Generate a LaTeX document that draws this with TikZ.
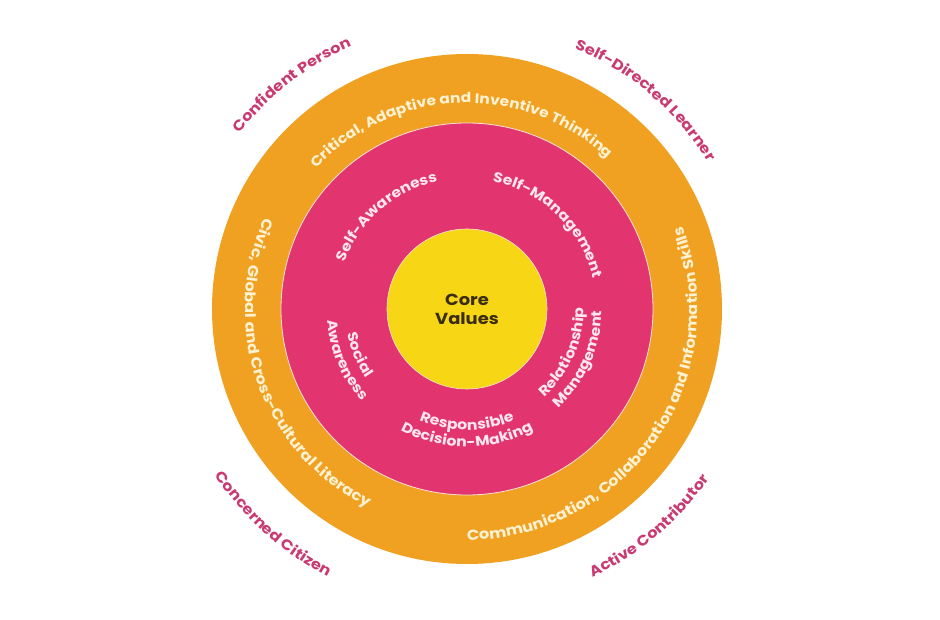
\documentclass[tikz,border=0pt]{standalone}
\usepackage{fontspec}
\setmainfont{Poppins}
\newfontfamily\wheelfont{Poppins}[FakeStretch=1.12]
\usepackage{xcolor}
\usetikzlibrary{decorations.text}

\definecolor{ringorange}{HTML}{F0A122}
\definecolor{ringpink}{HTML}{E2346F}
\definecolor{coreyellow}{HTML}{F6D615}
\definecolor{edgelight}{HTML}{FBE3DA}
\definecolor{labelpink}{HTML}{C93A72}
\definecolor{creamtext}{HTML}{FFF2D2}
\definecolor{pinktext}{HTML}{FDE6EE}
\definecolor{coretext}{HTML}{3B2C12}

\newcommand{\ringfont}{\wheelfont\fontsize{14.5}{16}\selectfont\bfseries}
\newcommand{\topfont}{\wheelfont\fontsize{13.8}{16}\selectfont\bfseries}
\newcommand{\pinkfont}{\wheelfont\fontsize{14}{15}\selectfont\bfseries}

\begin{document}
\begin{tikzpicture}[x=1pt, y=1pt,
  rings/.style={circle, inner sep=0pt},
  over/.style={decorate, decoration={text along path, text align=center,
      text color=#1}},
  textcw/.style n args={3}{insert path={(#1+70:#2) arc[start angle=#1+70, end angle=#1-70, radius=#2]}},
  textccw/.style n args={3}{insert path={(#1-70:#2) arc[start angle=#1-70, end angle=#1+70, radius=#2]}}]

 \useasboundingbox (-467,-311) rectangle (473,309);

 \node (ring_outer) [rings, fill=ringorange, minimum size=510pt] at (0,0) {};

 \node (ring_pink) [rings, fill=ringpink, draw=edgelight, line width=0.8pt,
     minimum size=372pt] at (ring_outer.center) {};

 \node (core_values) [rings, fill=coreyellow, draw=edgelight, line width=0.6pt,
     minimum size=160pt, align=center, text=coretext,
     font=\wheelfont\fontsize{16}{19}\selectfont\bfseries] at (ring_outer.center)
     {Core\\Values};

 % outer ring
 \path [over=creamtext, decoration={text={|\topfont|Critical, Adaptive and Inventive Thinking}}]
     [textcw={92}{206}{}];
 \path [over=creamtext, decoration={text={|\ringfont|Civic, Global and Cross-Cultural Literacy}}]
     [textccw={199.5}{222}{}];
 \path [over=creamtext, decoration={text={|\ringfont|Communication, Collaboration and Information Skills}}]
     [textccw={325.5}{231}{}];

 % pink ring
 \path [over=pinktext, decoration={text={|\pinkfont|Self-Awareness}}]
     [textcw={131}{131}{}];
 \path [over=pinktext, decoration={text={|\pinkfont|Self-Management}}]
     [textcw={46}{130}{}];
 \path [over=pinktext, decoration={text={|\pinkfont|Social}}]
     [textccw={203}{122}{}];
 \path [over=pinktext, decoration={text={|\pinkfont|Awareness}}]
     [textccw={203}{140}{}];
 \path [over=pinktext, decoration={text={|\pinkfont|Responsible}}]
     [textccw={270}{121}{}];
 \path [over=pinktext, decoration={text={|\pinkfont|Decision-Making}}]
     [textccw={270}{138}{}];
 \path [over=pinktext, decoration={text={|\pinkfont|Relationship}}]
     [textccw={336}{117}{}];
 \path [over=pinktext, decoration={text={|\pinkfont|Management}}]
     [textccw={336}{135}{}];

 % outcomes
 \path [over=labelpink, decoration={text={|\ringfont|Confident Person}}]
     [textcw={128}{287}{}];
 \path [over=labelpink, decoration={text={|\ringfont|Self-Directed Learner}}]
     [textcw={49.5}{282}{}];
 \path [over=labelpink, decoration={text={|\ringfont|Concerned Citizen}}]
     [textccw={228}{302}{}];
 \path [over=labelpink, decoration={text={|\ringfont|Active Contributor}}]
     [textccw={310}{296}{}];

\end{tikzpicture}
\end{document}
